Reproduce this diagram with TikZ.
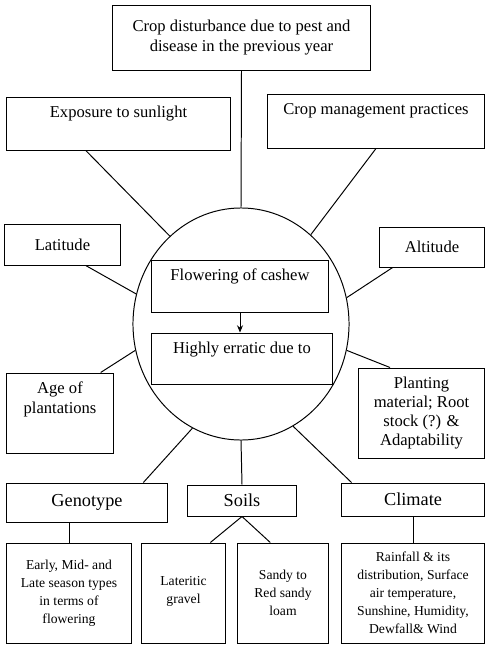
\documentclass[tikz,border=0pt]{standalone}
\usepackage{fontspec}
\setmainfont{Liberation Serif}
\usepackage{tikz}
\usetikzlibrary{shapes.geometric, arrows.meta, positioning, calc}
\tikzset{
	box/.style     ={rectangle, draw=black, line width=0.7pt, align=center, inner sep=2pt, font=\fontsize{11.8}{13.6}\selectfont},
	topbox/.style  ={box},
	headbox/.style ={box, font=\fontsize{13}{15}\selectfont},
	leafbox/.style ={box, minimum height=2.5cm, font=\fontsize{9.7}{12.8}\selectfont},
	hub/.style     ={ellipse, draw=black, line width=0.7pt, inner sep=0pt, minimum width=5.4cm, minimum height=5.8cm},
	link/.style    ={draw=black, line width=0.7pt},
	flowarrow/.style={-{Stealth[length=1.8mm, width=1.5mm]}, line width=0.7pt},
	toptext/.style ={anchor=north, align=center, inner sep=1pt, yshift=-2mm, font=\fontsize{11.8}{13.6}\selectfont},
}
\begin{document}
\begin{tikzpicture}[x=0.025cm, y=-0.025cm]
	\useasboundingbox (0,0) rectangle (486,645);
	% centre
	\node[hub] (hub) at (241,324) {};
	\node[topbox, minimum width=4.4cm, minimum height=1.3cm, label={[toptext]north:Flowering of cashew}] (flow) at (240,286) {};
	\node[topbox, minimum width=4.5cm, minimum height=1.275cm, label={[toptext]north:Highly erratic due to}] (err) at (242,358.5) {};
	\draw[flowarrow] (flow.south) -- (flow.south |- err.north);
	% factors round the circle
	\node[box, minimum width=6.425cm, minimum height=1.625cm] (pest) at (241.5,37.5) {Crop disturbance due to pest and\\disease in the previous year};
	\node[topbox, minimum width=5.575cm, minimum height=1.325cm, label={[toptext]north:Exposure to sunlight}] (sun) at (118.5,123.5) {};
	\node[topbox, minimum width=5.4cm, minimum height=1.35cm, label={[toptext]north:Crop management practices}] (mgmt) at (376,121) {};
	\node[box, minimum width=2.875cm, minimum height=1.025cm] (lat) at (62.5,244.5) {Latitude};
	\node[box, minimum width=2.6cm, minimum height=1.0cm] (alt) at (432,247) {Altitude};
	\node[box, minimum width=2.65cm, minimum height=2.0cm, label={[toptext]north:Age of\\plantations}] (age) at (60,413) {};
	\node[box, minimum width=3.125cm, minimum height=2.25cm] (plant) at (421.5,413) {Planting\\material; Root\\stock (?) \&\\Adaptability};
	\node[headbox, minimum width=4.0cm, minimum height=0.975cm] (geno) at (87,502.5) {Genotype};
	\node[headbox, minimum width=2.7cm, minimum height=0.775cm] (soils) at (242,500.5) {Soils};
	\node[headbox, minimum width=3.55cm, minimum height=0.825cm] (clim) at (413,499.5) {Climate};
	% bottom row
	\node[leafbox, minimum width=3.1cm] (early) at (69,593) {Early, Mid- and\\Late season types\\in terms of\\flowering};
	\node[leafbox, minimum width=2.075cm, label={[toptext, yshift=-6mm, font=\fontsize{9.7}{12.8}\selectfont]north:Lateritic\\gravel}] (later) at (183.5,593) {};
	\node[leafbox, minimum width=2.25cm] (sandy) at (283,593) {Sandy to\\Red sandy\\loam};
	\node[leafbox, minimum width=3.55cm] (rain) at (413,593) {Rainfall \& its\\distribution, Surface\\air temperature,\\Sunshine, Humidity,\\Dewfall\& Wind};
	% connectors
	\draw[link] (pest.south) -- (hub.north);
	\draw[link] ($(sun.south west)!.354!(sun.south east)$) -- (hub.129);
	\draw[link] (mgmt.south) -- (hub.52.5);
	\draw[link] ($(lat.south west)!.70!(lat.south east)$) -- (hub.164.7);
	\draw[link] ($(alt.south west)!.125!(alt.south east)$) -- (hub.14.2);
	\draw[link] ($(age.north west)!.88!(age.north east)$) -- (hub.194.5);
	\draw[link] ($(plant.north west)!.25!(plant.north east)$) -- (hub.346.5);
	\draw[link] ($(geno.north west)!.85!(geno.north east)$) -- (hub.245.8);
	\draw[link] (soils.north) -- (hub.south);
	\draw[link] ($(clim.north west)!.07!(clim.north east)$) -- (hub.297);
	\draw[link] (early.north |- geno.south) -- (early.north);
	\draw[link] (soils.south) -- ($(later.north west)!.82!(later.north east)$);
	\draw[link] (soils.south) -- ($(sandy.north west)!.36!(sandy.north east)$);
	\draw[link] (clim.south) -- (rain.north);
\end{tikzpicture}
\end{document}
